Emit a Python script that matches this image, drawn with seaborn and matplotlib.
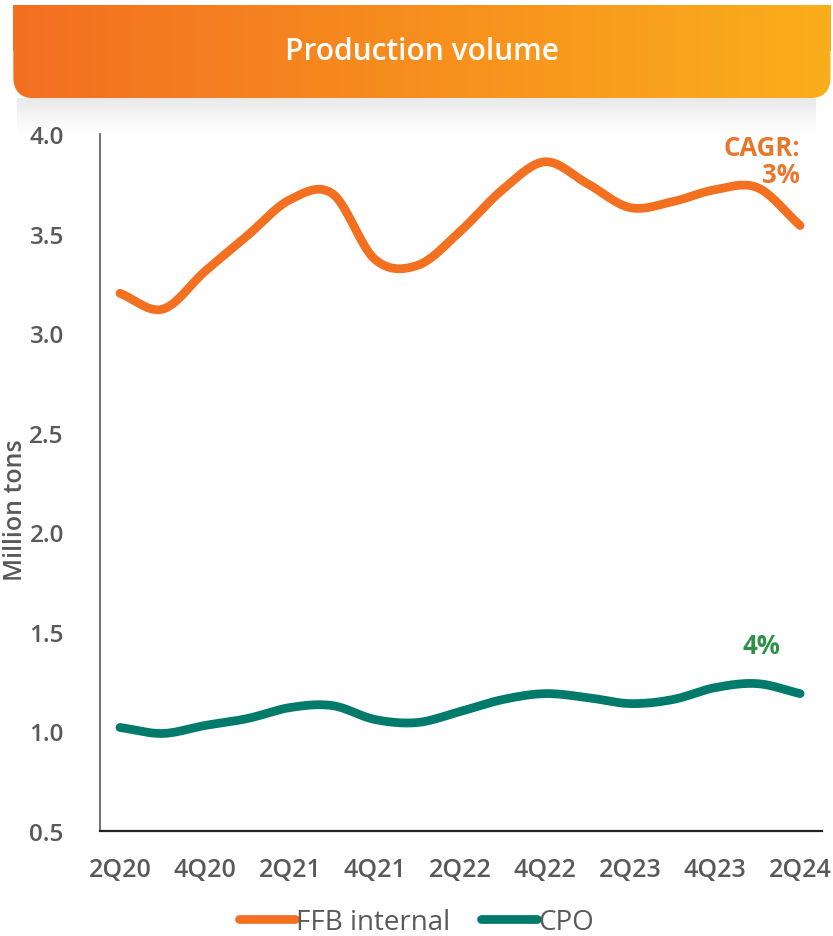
import matplotlib.pyplot as plt
import numpy as np
import pandas as pd
import seaborn as sns
from matplotlib.colors import LinearSegmentedColormap
from matplotlib.lines import Line2D
from matplotlib.patches import FancyBboxPatch, Rectangle

QUARTERS = ['2Q20', '3Q20', '4Q20', '1Q21', '2Q21', '3Q21', '4Q21', '1Q22', '2Q22',
            '3Q22', '4Q22', '1Q23', '2Q23', '3Q23', '4Q23', '1Q24', '2Q24']
FFB_INTERNAL = [3.20, 3.12, 3.31, 3.49, 3.67, 3.70, 3.37, 3.34, 3.51,
                3.72, 3.86, 3.75, 3.63, 3.66, 3.72, 3.73, 3.54]
CPO = [1.02, 0.99, 1.03, 1.065, 1.12, 1.13, 1.06, 1.045, 1.10,
       1.16, 1.19, 1.17, 1.14, 1.16, 1.22, 1.24, 1.19]
SERIES_NAMES = ['FFB internal', 'CPO']
TICK_LABELS = QUARTERS[::2]

ORANGE = '#F37021'
TEAL = '#007A6A'
GRAY = '#595959'


def smooth(values, steps=20):
    # catmull-rom through the data points, like a smoothed office chart line
    p = np.asarray(values, dtype=float)
    p = np.concatenate([[2 * p[0] - p[1]], p, [2 * p[-1] - p[-2]]])
    xs, ys = [], []
    for i in range(1, len(p) - 2):
        t = np.linspace(0, 1, steps, endpoint=False)
        p0, p1, p2, p3 = p[i - 1], p[i], p[i + 1], p[i + 2]
        y = 0.5 * (2 * p1 + (-p0 + p2) * t + (2 * p0 - 5 * p1 + 4 * p2 - p3) * t ** 2
                   + (-p0 + 3 * p1 - 3 * p2 + p3) * t ** 3)
        xs.append(i - 1 + t)
        ys.append(y)
    xs.append([len(values) - 1])
    ys.append([values[-1]])
    return np.concatenate(xs), np.concatenate(ys)


frames = []
for name, vals in zip(SERIES_NAMES, [FFB_INTERNAL, CPO]):
    x, y = smooth(vals)
    frames.append(pd.DataFrame({'x': x, 'value': y, 'series': name}))
df = pd.concat(frames, ignore_index=True)

sns.set_style('white')
plt.rcParams['font.family'] = ['Open Sans', 'DejaVu Sans']

fig = plt.figure(figsize=(8.33, 9.37), dpi=100)

# soft shadow under the banner
n_steps = 20
for k in range(n_steps):
    fig.patches.append(Rectangle((0.02, 0.894 - (k + 1) * 0.0022), 0.96, 0.0022,
                                 transform=fig.transFigure, color='#000000',
                                 alpha=0.085 * (1 - k / n_steps) ** 1.5, lw=0, zorder=0))

# gradient banner, square top corners and rounded bottom corners
grad_ax = fig.add_axes([0.016, 0.894, 0.981, 0.1])
grad_ax.axis('off')
grad_ax.set_xlim(0, 1)
grad_ax.set_ylim(0, 1)
grad = np.linspace(0, 1, 256).reshape(1, -1)
cmap = LinearSegmentedColormap.from_list('banner', ['#F36F21', '#FBAE1B'])
rounded = FancyBboxPatch((0.0, 0.0), 1.0, 1.0,
                         boxstyle='round,pad=0,rounding_size=0.026',
                         mutation_aspect=0.981 * 8.33 / (0.1 * 9.37),
                         transform=grad_ax.transData, facecolor='none', edgecolor='none')
top_half = Rectangle((0, 0.5), 1, 0.5, transform=grad_ax.transData,
                     facecolor='none', edgecolor='none')
for clip in (rounded, top_half):
    grad_ax.add_patch(clip)
    im = grad_ax.imshow(grad, aspect='auto', cmap=cmap, extent=[0, 1, 0, 1])
    im.set_clip_path(clip)
grad_ax.set_xlim(0, 1)
grad_ax.set_ylim(0, 1)
grad_ax.text(0.5, 0.5, 'Production volume', color='white', fontsize=21.5,
             ha='center', va='center', fontweight='semibold')

ax = fig.add_axes([0.120, 0.112, 0.867, 0.744])
sns.lineplot(data=df, x='x', y='value', hue='series', hue_order=SERIES_NAMES,
             palette=[ORANGE, TEAL], linewidth=6.3, ax=ax, sort=False,
             estimator=None, legend=False)
for line in ax.get_lines():
    line.set_solid_capstyle('round')

ax.set_xlim(-0.47, 16.52)
ax.set_ylim(0.5, 4.0)
ax.set_yticks(np.arange(0.5, 4.01, 0.5))
ax.set_yticklabels([f'{v:.1f}' for v in np.arange(0.5, 4.01, 0.5)])
ax.set_xticks(range(0, len(QUARTERS), 2))
ax.set_xticklabels(TICK_LABELS)
ax.tick_params(axis='both', length=0, labelcolor=GRAY)
ax.tick_params(axis='x', pad=19, labelsize=18)
ax.tick_params(axis='y', pad=26, labelsize=17.5)
for lbl in ax.get_xticklabels() + ax.get_yticklabels():
    lbl.set_fontweight('semibold')
ax.set_xlabel('')
ax.set_ylabel('Million tons', fontsize=18, color=GRAY, fontweight='semibold')
ax.yaxis.set_label_coords(-0.1, 0.462)
sns.despine(ax=ax)
ax.spines['left'].set_color(GRAY)
ax.spines['left'].set_linewidth(1.2)
ax.spines['bottom'].set_color('#222222')
ax.spines['bottom'].set_linewidth(1.6)
ax.patch.set_alpha(0)

ax.text(16, 4.0, 'CAGR:\n3%', color='#E8762B', fontsize=18.5, fontweight='bold',
        ha='right', va='top', linespacing=1.0)
ax.text(15.1, 1.43, '4%', color='#2E9148', fontsize=18.5, fontweight='bold',
        ha='center', va='center')

handles = [Line2D([], [], color=ORANGE, lw=6.3, solid_capstyle='round'),
           Line2D([], [], color=TEAL, lw=6.3, solid_capstyle='round')]
fig.legend(handles, SERIES_NAMES, loc='center', bbox_to_anchor=(0.5, 0.015),
           ncol=2, frameon=False, fontsize=20, handlelength=2.0,
           handletextpad=0.05, columnspacing=1.1, labelcolor=GRAY)

fig.savefig('out.png', dpi=100)
